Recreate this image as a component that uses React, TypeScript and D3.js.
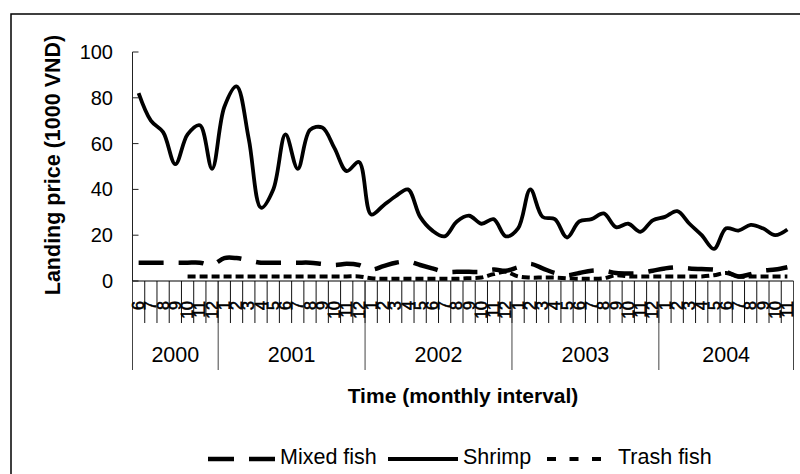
import React from "react";
import * as d3 from "d3";

const monthLabels: string[] = [
  "6", "7", "8", "9", "10", "11", "12",
  "1", "2", "3", "4", "5", "6", "7", "8", "9", "10", "11", "12",
  "1", "2", "3", "4", "5", "6", "7", "8", "9", "10", "11", "12",
  "1", "2", "3", "4", "5", "6", "7", "8", "9", "10", "11", "12",
  "1", "2", "3", "4", "5", "6", "7", "8", "9", "10", "11",
];
const years: string[] = ["2000", "2001", "2002", "2003", "2004"];
const monthsInYear: number[] = [7, 12, 12, 12, 11];

const shrimp: number[] = [
  82, 70, 65, 51, 64, 68, 49,
  76, 85, 62, 32, 40, 64, 49, 66, 67, 58, 48, 52,
  29, 33, 37, 40, 28, 22, 19.5, 26, 28.5, 25, 27, 19.5,
  23, 40, 28, 27, 19, 26, 27, 29.5, 23.5, 25, 21.5, 26.5,
  28, 30.5, 25, 20, 14, 23, 22, 24.5, 23, 20, 22.5,
];
const mixedFish: number[] = [
  8, 8, 8, 8, 8, 8, 7,
  10, 10, 9, 8, 8, 8, 8, 8, 7.5, 7, 7.5, 7,
  5, 6.5, 8, 8.5, 7, 5.5, 4, 4, 4, 4, 5, 4.5,
  6, 7.5, 5.5, 3.5, 2.5, 3.5, 4.5, 4.5, 3.5, 3.3, 3.5, 4.5,
  5.5, 6, 5.5, 5.2, 5, 4, 2, 3, 4.5, 5, 6,
];
const trashFish: (number | null)[] = [
  null, null, null, null, 2, 2, 2,
  2, 2, 2, 2, 2, 2, 2, 2, 2, 2, 2, 2,
  1.2, 1, 1, 1, 1, 1, 1, 1, 1.2, 1.5, 3, 4,
  2, 1.5, 1.5, 1.5, 1.2, 1, 1, 1.2, 2.5, 2, 2, 2,
  2, 2, 2, 2, 2.5, 3.5, 2, 2, 2, 2, 2,
];
const yTicks: number[] = [0, 20, 40, 60, 80, 100];

const FONT = "'Liberation Sans', Arial, sans-serif";

export default function App() {
  const W = 800;
  const H = 474;
  const x0 = 132.5;
  const x1 = 793.5;
  const idx = monthLabels.map((_, i) => i);
  const x = d3.scaleBand<number>().domain(idx).range([x0, x1]).padding(0);
  const bw = x.bandwidth();
  const cx = (i: number) => (x(i) as number) + bw / 2;
  const y = d3.scaleLinear().domain([0, 100]).range([281, 52]);
  const yAxisBase = y(0);

  const lineGen = d3
    .line<number | null>()
    .defined((d) => d !== null)
    .x((_, i) => cx(i))
    .y((d) => y(d as number))
    .curve(d3.curveCatmullRom.alpha(0.5));

  const bounds: number[] = [0];
  monthsInYear.forEach((n, k) => bounds.push(bounds[k] + n));

  return (
    <svg
      width={W}
      height={H}
      style={{ position: "absolute", left: 0, top: 0, background: "#fff" }}
      fontFamily={FONT}
    >
      <rect x={0} y={0} width={W} height={H} fill="#fff" />
      <rect x={11} y={14} width={820} height={500} fill="none" stroke="#000" strokeWidth={1.5} />

      {/* y axis */}
      <line x1={x0} x2={x0} y1={y(100)} y2={yAxisBase} stroke="#222" strokeWidth={1} />
      {yTicks.map((t) => (
        <g key={t}>
          <line x1={x0} x2={x0 + 6} y1={y(t)} y2={y(t)} stroke="#222" strokeWidth={1} />
          <text x={113} y={y(t)} dy="0.35em" textAnchor="end" fontSize={20} fill="#000">
            {t}
          </text>
        </g>
      ))}
      <text
        transform={`translate(60,165) rotate(-90)`}
        textAnchor="middle"
        fontSize={21.5}
        fontWeight="bold"
        fill="#000"
      >
        Landing price (1000 VND)
      </text>

      {/* x axis */}
      {idx.map((i) => (
        <line
          key={"mt" + i}
          x1={x(i) as number}
          x2={x(i) as number}
          y1={yAxisBase}
          y2={323}
          stroke="#111"
          strokeWidth={1}
        />
      ))}
      {bounds.map((b, k) => {
        const bx = b < monthLabels.length ? (x(b) as number) : x1;
        return <line key={"yb" + k} x1={bx} x2={bx} y1={yAxisBase} y2={370} stroke="#444" strokeWidth={1} />;
      })}
      {monthLabels.map((m, i) => (
        <text
          key={"ml" + i}
          transform={`translate(${cx(i)},301) rotate(-90)`}
          textAnchor="end"
          dy="0.35em"
          fontSize={16}
          fill="#000"
          stroke="#000"
          strokeWidth={0.6}
        >
          {m}
        </text>
      ))}
      {years.map((yr, k) => {
        const a = x(bounds[k]) as number;
        const b = bounds[k + 1] < monthLabels.length ? (x(bounds[k + 1]) as number) : x1;
        return (
          <text key={yr} x={(a + b) / 2} y={362} textAnchor="middle" fontSize={21.5} fill="#000">
            {yr}
          </text>
        );
      })}
      <line x1={x0} x2={x1} y1={yAxisBase} y2={yAxisBase} stroke="#000" strokeWidth={1.2} />
      <text x={463} y={403} textAnchor="middle" fontSize={21} fontWeight="bold" fill="#000">
        Time (monthly interval)
      </text>

      {/* series */}
      <path d={lineGen(trashFish) || ""} fill="none" stroke="#000" strokeWidth={4} strokeDasharray="8 4" />
      <path d={lineGen(mixedFish) || ""} fill="none" stroke="#000" strokeWidth={4.5} strokeDasharray="25 15" />
      <path d={lineGen(shrimp) || ""} fill="none" stroke="#000" strokeWidth={3.8} strokeLinejoin="round" />

      {/* legend */}
      <line x1={208} x2={275} y1={459} y2={459} stroke="#000" strokeWidth={4.5} strokeDasharray="26 15" />
      <text x={280} y={464} fontSize={21.5} fill="#000">Mixed fish</text>
      <line x1={388} x2={458} y1={459} y2={459} stroke="#000" strokeWidth={3.8} />
      <text x={463} y={464} fontSize={21.5} fill="#000">Shrimp</text>
      <line x1={547} x2={601} y1={459} y2={459} stroke="#000" strokeWidth={4} strokeDasharray="9 13.5" />
      <text x={618} y={464} fontSize={21.5} fill="#000">Trash fish</text>
    </svg>
  );
}
